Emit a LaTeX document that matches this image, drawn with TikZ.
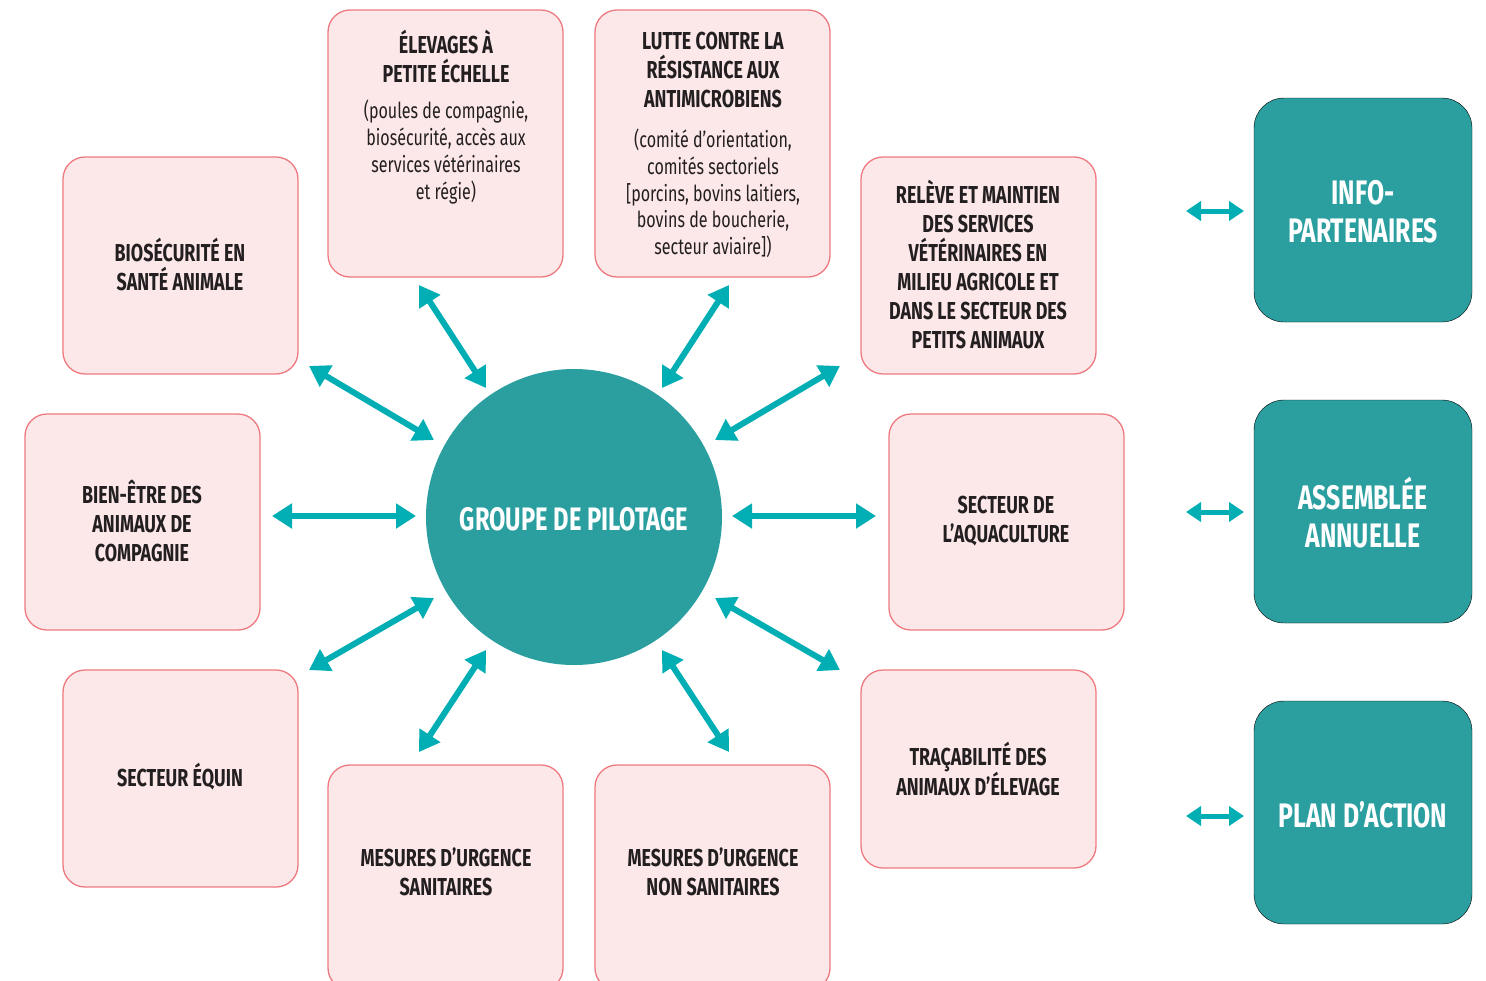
\documentclass[tikz,border=0pt]{standalone}
\usepackage{fontspec}
\setmainfont{Fira Sans}[FakeStretch=0.73]
\usetikzlibrary{arrows.meta}
\definecolor{pinkfill}{HTML}{FCE7E9}
\definecolor{pinkline}{HTML}{EE7A80}
\definecolor{tealbox}{HTML}{2B9FA0}
\definecolor{arrowc}{HTML}{00AEB3}
\definecolor{txt}{HTML}{231F20}
\tikzset{
  pinkbox/.style={draw=pinkline, fill=pinkfill, line width=1.3pt, rounded corners=22pt},
  tealrect/.style={fill=tealbox, rounded corners=30pt},
  ttl/.style={align=center, text=txt, font=\bfseries\fontsize{24.5}{29}\selectfont, inner sep=0pt, yshift=2pt},
  body/.style={align=center, text=txt, font=\fontsize{22}{26.7}\selectfont, inner sep=0pt},
  wht/.style={align=center, text=white, font=\bfseries\fontsize{34}{38}\selectfont, inner sep=0pt},
  dbl/.style={draw=arrowc, line width=6pt, {Triangle[length=20pt,width=24pt]}-{Triangle[length=20pt,width=24pt]}},
  sdbl/.style={draw=arrowc, line width=5pt, {Triangle[length=15pt,width=19pt]}-{Triangle[length=15pt,width=19pt]}}
}
\begin{document}
\begin{tikzpicture}[x=1pt,y=-1pt]
\useasboundingbox (0,0) rectangle (1486,980);
% pink boxes
\draw[pinkbox] (63,157) rectangle (298,374);
\draw[pinkbox] (328,10) rectangle (563,277);
\draw[pinkbox] (595,10) rectangle (830,277);
\draw[pinkbox] (861,157) rectangle (1096,374);
\draw[pinkbox] (25,414) rectangle (260,630);
\draw[pinkbox] (889,414) rectangle (1124,630);
\draw[pinkbox] (63,670) rectangle (298,887);
\draw[pinkbox] (328,765) rectangle (563,990);
\draw[pinkbox] (595,765) rectangle (830,990);
\draw[pinkbox] (861,670) rectangle (1096,868);
% teal boxes
\draw[tealrect] (1254,98) rectangle (1472,322);
\draw[tealrect] (1254,400) rectangle (1472,623);
\draw[tealrect] (1254,701) rectangle (1472,924);
% circle
\node[circle, fill=tealbox, minimum size=296pt, inner sep=0pt] (pil) at (574,517) {};
\node[wht, font=\bfseries\fontsize{32.5}{38}\selectfont] (pilt) at (574,519) {GROUPE DE PILOTAGE};
% texts
\node[ttl] (bio) at (180,266) {BIOSÉCURITÉ EN\\SANTÉ ANIMALE};
\node[ttl] (elev) at (446,58.5) {ÉLEVAGES À\\PETITE ÉCHELLE};
\node[body] (elevb) at (446,152) {(poules de compagnie,\\biosécurité, accès aux\\services vétérinaires\\et régie)};
\node[ttl] (lutte) at (713,72) {LUTTE CONTRE LA\\RÉSISTANCE AUX\\ANTIMICROBIENS};
\node[body] (lutteb) at (713,193.5) {(comité d’orientation,\\comités sectoriels\\{[}porcins, bovins laitiers,\\bovins de boucherie,\\secteur aviaire{]})};
\node[ttl] (rel) at (978,266) {RELÈVE ET MAINTIEN\\DES SERVICES\\VÉTÉRINAIRES EN\\MILIEU AGRICOLE ET\\DANS LE SECTEUR DES\\PETITS ANIMAUX};
\node[ttl] (bien) at (142,523) {BIEN-ÊTRE DES\\ANIMAUX DE\\COMPAGNIE};
\node[ttl] (aqua) at (1006,523) {SECTEUR DE\\L’AQUACULTURE};
\node[ttl] (equ) at (180,779) {SECTEUR ÉQUIN};
\node[ttl] (san) at (446,874) {MESURES D’URGENCE\\SANITAIRES};
\node[ttl] (nsan) at (713,874) {MESURES D’URGENCE\\NON SANITAIRES};
\node[ttl] (trac) at (978,771) {TRAÇABILITÉ DES\\ANIMAUX D’ÉLEVAGE};
\node[wht] (info) at (1363,212) {INFO-\\PARTENAIRES};
\node[wht] (assem) at (1363,513) {ASSEMBLÉE\\ANNUELLE};
\node[wht] (plan) at (1363,815) {PLAN D’ACTION};
% arrow end coordinates
\coordinate (bio-a) at (309,366); \coordinate (bio-b) at (434,440);
\coordinate (elev-a) at (419,285); \coordinate (elev-b) at (486,388);
\coordinate (lutte-a) at (729,285); \coordinate (lutte-b) at (662,388);
\coordinate (rel-a) at (840,366); \coordinate (rel-b) at (715,440);
\coordinate (bien-a) at (272,516); \coordinate (bien-b) at (416,516);
\coordinate (aqua-a) at (876,516); \coordinate (aqua-b) at (732,516);
\coordinate (equ-a) at (309,670); \coordinate (equ-b) at (434,598);
\coordinate (san-a) at (419,752); \coordinate (san-b) at (486,650);
\coordinate (nsan-a) at (729,752); \coordinate (nsan-b) at (662,650);
\coordinate (trac-a) at (840,670); \coordinate (trac-b) at (715,598);
\coordinate (info-a) at (1186,211); \coordinate (info-b) at (1244,211);
\coordinate (assem-a) at (1186,512); \coordinate (assem-b) at (1244,512);
\coordinate (plan-a) at (1186,816); \coordinate (plan-b) at (1244,816);
\draw[dbl] (bio-a) -- (bio-b);
\draw[dbl] (elev-a) -- (elev-b);
\draw[dbl] (lutte-a) -- (lutte-b);
\draw[dbl] (rel-a) -- (rel-b);
\draw[dbl] (bien-a) -- (bien-b);
\draw[dbl] (aqua-a) -- (aqua-b);
\draw[dbl] (equ-a) -- (equ-b);
\draw[dbl] (san-a) -- (san-b);
\draw[dbl] (nsan-a) -- (nsan-b);
\draw[dbl] (trac-a) -- (trac-b);
\draw[sdbl] (info-a) -- (info-b);
\draw[sdbl] (assem-a) -- (assem-b);
\draw[sdbl] (plan-a) -- (plan-b);
\end{tikzpicture}
\end{document}
